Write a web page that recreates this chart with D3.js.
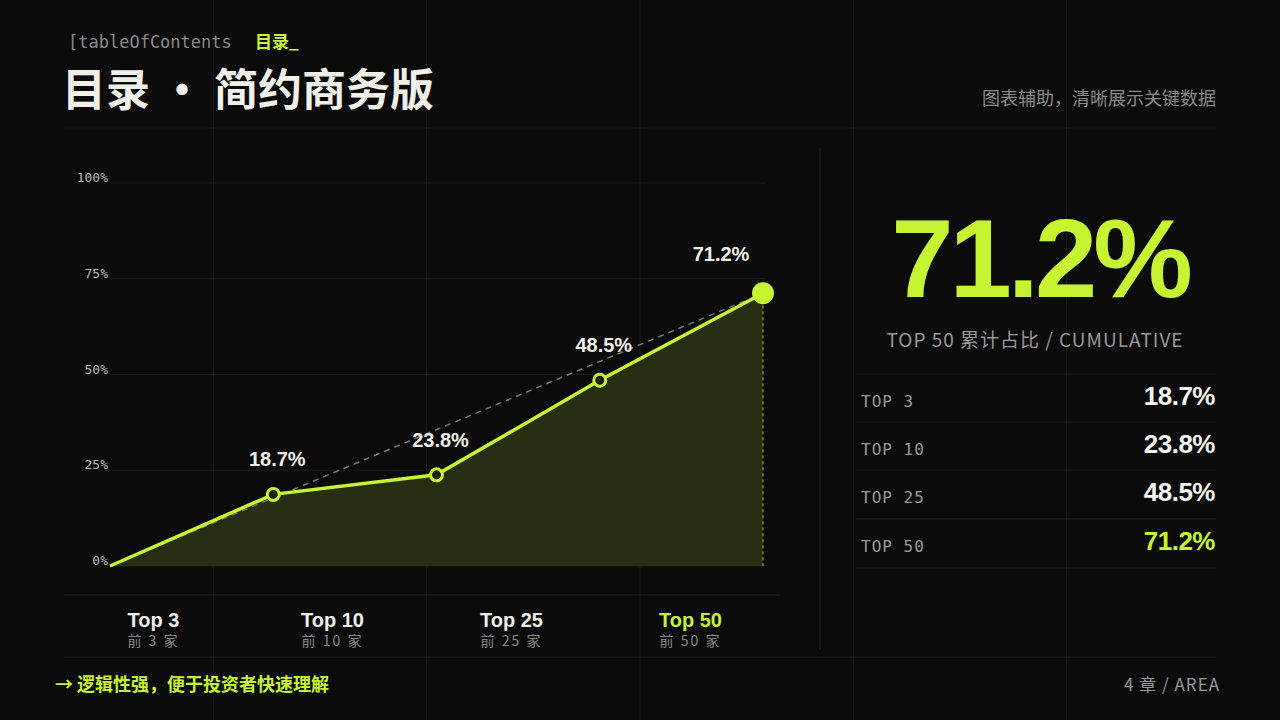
<!DOCTYPE html>
<html><head><meta charset="utf-8">
<script src="https://cdn.jsdelivr.net/npm/d3@7/dist/d3.min.js"></script>
<style>body{margin:0;background:#0b0b0b}svg{display:block}</style>
</head><body><svg id="c" width="1280" height="720"></svg>
<script>
const categories=["Top 3","Top 10","Top 25","Top 50"];
const subLabels=["前 3 家","前 10 家","前 25 家","前 50 家"];
const tableLabels=["TOP 3","TOP 10","TOP 25","TOP 50"];
const values=[18.7,23.8,48.5,71.2];
const yTicks=[0,25,50,75,100];
const G="#c6f432",CJK="'Noto Sans CJK SC','Noto Sans',sans-serif",MONO="'DejaVu Sans Mono','Liberation Mono',monospace";
const svg=d3.select("#c");
svg.append("rect").attr("width",1280).attr("height",720).attr("fill","#0b0b0b");
// background vertical grid
[1,2,3,4,5].forEach(i=>svg.append("line").attr("x1",i*1280/6).attr("x2",i*1280/6).attr("y1",0).attr("y2",720).attr("stroke","#1b1b1b"));
[[128,64,1216],[595,64,780],[657,64,1216]].forEach(([y,a,b])=>svg.append("line").attr("x1",a).attr("x2",b).attr("y1",y).attr("y2",y).attr("stroke","#222"));
svg.append("line").attr("x1",820).attr("x2",820).attr("y1",148).attr("y2",650).attr("stroke","#262626");
// header
const h=svg.append("text").attr("x",68).attr("y",48).attr("font-size",17).attr("font-family",MONO).attr("fill","#8a8a8a");
h.append("tspan").text("[tableOfContents");
h.append("tspan").attr("x",255).attr("fill",G).attr("font-family",CJK).attr("font-weight",700).text("目录_");
svg.append("text").attr("x",62).attr("y",106).attr("font-size",44).attr("font-weight",700).attr("font-family",CJK).attr("fill","#f0efe8").text("目录 · 简约商务版");
svg.append("text").attr("x",1216).attr("y",105).attr("text-anchor","end").attr("font-size",18).attr("font-family",CJK).attr("fill","#8a8a8a").text("图表辅助，清晰展示关键数据");
// chart
const x=d3.scaleLinear().domain([0,4]).range([110,763]);
const y=d3.scaleLinear().domain([0,100]).range([566,183]);
const pts=[[0,0],...values.map((v,i)=>[i+1,v])];
yTicks.forEach(t=>{
 svg.append("line").attr("x1",110).attr("x2",765).attr("y1",y(t)).attr("y2",y(t)).attr("stroke","#1e1e1e");
 svg.append("text").attr("x",108).attr("y",y(t)-1).attr("text-anchor","end").attr("font-size",13).attr("font-family",MONO).attr("fill","#bbb").text(t+"%");
});
svg.append("path").datum(pts).attr("fill","#2b3212").attr("opacity",0.9)
 .attr("d",d3.area().x(d=>x(d[0])).y0(y(0)).y1(d=>y(d[1])));
svg.append("line").attr("x1",x(0)).attr("y1",y(0)).attr("x2",x(4)).attr("y2",y(values[3])).attr("stroke","#777").attr("stroke-width",1.5).attr("stroke-dasharray","6,5");
svg.append("line").attr("x1",x(4)).attr("y1",y(values[3])).attr("x2",x(4)).attr("y2",y(0)).attr("stroke",G).attr("stroke-width",1).attr("stroke-dasharray","3,3").attr("opacity",0.8);
svg.append("path").datum(pts).attr("fill","none").attr("stroke",G).attr("stroke-width",3.5)
 .attr("d",d3.line().x(d=>x(d[0])).y(d=>y(d[1])));
values.forEach((v,i)=>{
 const last=i===3;
 svg.append("circle").attr("cx",x(i+1)).attr("cy",y(v)).attr("r",last?11:6).attr("fill",last?G:"#1c2008").attr("stroke",G).attr("stroke-width",last?0:3);
 svg.append("text").attr("x",x(i+1)+(last?-42:4)).attr("y",y(v)-(last?32:28)).attr("text-anchor","middle").attr("font-size",20).attr("font-weight",700).attr("font-family","'Liberation Sans',Arial,sans-serif").attr("fill","#f0efe8").text(v+"%");
});
const band=d3.scaleBand().domain(categories).range([64,780]);
categories.forEach((c,i)=>{
 const cx=band(c)+band.bandwidth()/2;
 svg.append("text").attr("x",cx).attr("y",627).attr("text-anchor","middle").attr("font-size",20).attr("font-weight",700).attr("font-family","'Liberation Sans',Arial,sans-serif").attr("fill",i===3?G:"#f0efe8").text(c);
 svg.append("text").attr("x",cx).attr("y",646).attr("text-anchor","middle").attr("font-size",14).attr("letter-spacing",2).attr("font-family",CJK).attr("fill","#888").text(subLabels[i]);
});
// right panel
svg.append("text").attr("x",1040).attr("y",297).attr("text-anchor","middle").attr("font-size",112).attr("font-weight",700).attr("letter-spacing",-4).attr("font-family","'Liberation Sans',Arial,sans-serif").attr("fill",G).text(values[3]+"%");
svg.append("text").attr("x",1035).attr("y",347).attr("text-anchor","middle").attr("font-size",19).attr("letter-spacing",1).attr("font-family",CJK).attr("fill","#999").text("TOP 50  累计占比  / CUMULATIVE");
[374,422,470,519,568].forEach(yy=>svg.append("line").attr("x1",856).attr("x2",1216).attr("y1",yy).attr("y2",yy).attr("stroke","#262626"));
values.forEach((v,i)=>{
 const by=[374,422,470,519][i];
 svg.append("text").attr("x",861).attr("y",by+33).attr("font-size",16).attr("letter-spacing",1).attr("font-family",MONO).attr("fill","#999").text(tableLabels[i]);
 svg.append("text").attr("x",1215).attr("y",by+31).attr("text-anchor","end").attr("font-size",26).attr("font-weight",700).attr("letter-spacing",-0.5).attr("font-family","'Liberation Sans',Arial,sans-serif").attr("fill",i===3?G:"#f5f5f0").text(v+"%");
});
// footer
svg.append("text").attr("x",55).attr("y",691).attr("font-size",18).attr("font-weight",700).attr("font-family",CJK).attr("fill",G).text("→ 逻辑性强，便于投资者快速理解");
svg.append("text").attr("x",1220).attr("y",691).attr("text-anchor","end").attr("font-size",17).attr("letter-spacing",1).attr("font-family",CJK).attr("fill","#999").text("4 章 / AREA");
</script></body></html>
